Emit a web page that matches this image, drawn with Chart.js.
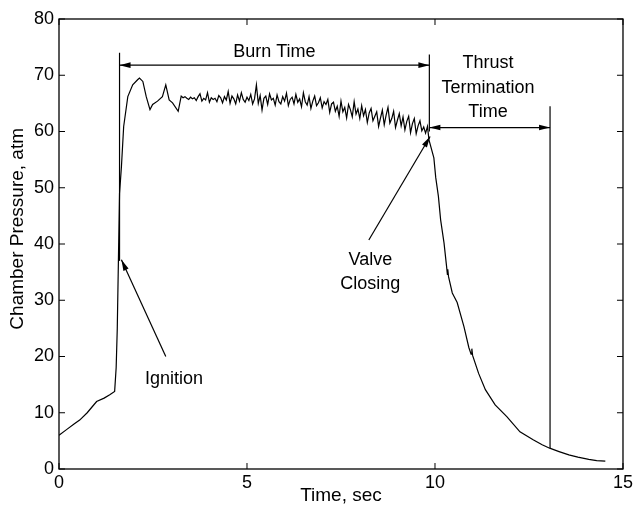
<!DOCTYPE html>
<html>
<head>
<meta charset="utf-8">
<script src="https://cdn.jsdelivr.net/npm/chart.js@4.4.0/dist/chart.umd.min.js"></script>
<style>
  html, body { margin: 0; padding: 0; background: #fff; }
</style>
</head>
<body>
<canvas id="PressureChart" width="636" height="509"></canvas>
<script>
// data
var timeSec = [
    0, 0.2, 0.4, 0.55, 0.75, 0.9, 1.0, 1.2, 1.35, 1.48,
    1.52, 1.55, 1.58, 1.61, 1.66, 1.72, 1.83, 1.96, 2.09, 2.14,
    2.23, 2.32, 2.42, 2.49, 2.62, 2.75, 2.84, 2.93, 3.02, 3.17,
    3.25, 3.30, 3.35, 3.40, 3.45, 3.50, 3.55, 3.60, 3.65, 3.70, 3.75, 3.80, 3.85, 3.90, 3.95, 4.00,
    4.05, 4.10, 4.15, 4.20, 4.25, 4.30, 4.35, 4.40, 4.45, 4.50, 4.55, 4.60, 4.65, 4.70, 4.75, 4.80, 4.85, 4.90, 4.95, 5.00,
    5.05, 5.10, 5.15, 5.20, 5.25, 5.30, 5.35, 5.40, 5.45, 5.50, 5.55, 5.60, 5.65, 5.70, 5.75, 5.80, 5.85, 5.90, 5.95, 6.00,
    6.05, 6.10, 6.15, 6.20, 6.25, 6.30, 6.35, 6.40, 6.45, 6.50, 6.55, 6.60, 6.65, 6.70, 6.75, 6.80, 6.85, 6.90, 6.95, 7.00,
    7.05, 7.10, 7.15, 7.20, 7.25, 7.30, 7.35, 7.40, 7.45, 7.50, 7.55, 7.60, 7.65, 7.70, 7.75, 7.80, 7.85, 7.90, 7.95, 8.00,
    8.05, 8.10, 8.15, 8.20, 8.25, 8.30, 8.35, 8.40, 8.45, 8.50, 8.55, 8.60, 8.65, 8.70, 8.75, 8.80, 8.85, 8.90, 8.95, 9.00,
    9.05, 9.10, 9.15, 9.20, 9.25, 9.30, 9.35, 9.40, 9.45, 9.50, 9.55, 9.60, 9.65, 9.70, 9.75, 9.80,
    9.84, 9.97, 10.02, 10.09, 10.15, 10.24, 10.30, 10.33, 10.34, 10.36,
    10.46, 10.59, 10.77, 10.90, 10.96, 10.98, 11.0, 11.16, 11.34, 11.6,
    11.91, 12.26, 12.61, 12.85, 13.05, 13.3, 13.56, 13.8, 14.09, 14.3,
    14.53
];
var pressureAtm = [
    6.0, 7.0, 8.0, 8.7, 10.0, 11.2, 12.0, 12.6, 13.2, 13.8,
    18.0, 25.0, 37.0, 49.0, 53.7, 60.9, 66.2, 68.3, 69.2, 69.5,
    68.9, 66.2, 63.9, 64.8, 65.4, 66.2, 68.3, 65.6, 65.1, 63.6,
    66.3, 66.0, 66.2, 65.9, 65.7, 66.1, 65.8, 66.0, 65.5, 66.2, 66.7, 65.4, 65.9, 65.6, 66.9, 65.2,
    66.0, 65.7, 65.9, 65.3, 66.4, 66.0, 65.1, 66.2, 65.6, 67.1, 65.0, 66.3, 65.8, 64.9, 66.5, 65.4, 66.9, 65.7, 65.2, 66.1,
    65.5, 66.6, 64.9, 65.8, 68.3, 65.0, 66.4, 63.8, 65.9, 66.3, 64.8, 66.7, 65.6, 65.9, 64.7, 66.5, 65.3, 64.9, 66.2, 65.4,
    66.8, 64.6, 65.7, 66.1, 64.9, 66.6, 65.2, 65.8, 64.4, 66.9, 65.3, 64.7, 66.2, 64.1, 65.4, 66.3, 64.6, 65.1, 66.0, 64.2,
    65.3, 64.8, 65.7, 63.4, 64.9, 65.2, 63.6, 64.5, 62.7, 65.4, 63.5, 64.3, 62.4, 64.8, 63.9, 62.6, 65.3, 63.1, 64.0, 62.3,
    64.6, 62.8, 63.9, 61.6, 63.3, 64.1, 61.9, 62.7, 63.5, 60.9, 62.4, 63.8, 61.2, 62.9, 64.3, 61.5, 62.3, 63.6, 60.7, 62.0,
    63.2, 61.0, 62.6, 60.3, 61.8, 62.7, 59.8, 61.4, 62.3, 59.6, 61.0, 61.9, 60.1, 60.8, 59.7, 60.9,
    58.5, 55.3, 51.8, 48.5, 44.3, 40.2, 36.5, 34.6, 35.5, 34.2,
    31.3, 29.6, 25.3, 21.6, 20.4, 21.4, 20.2, 17.0, 14.1, 11.4,
    9.3, 6.6, 5.2, 4.3, 3.7, 3.1, 2.5, 2.1, 1.7, 1.5,
    1.4
];
var xTicks = [0, 5, 10, 15];
var yTicks = [0, 10, 20, 30, 40, 50, 60, 70, 80];

// event times (sec) and annotation anchors, in data units
var ignitionTime = 1.61;
var valveTime = 9.85;
var thrustEndTime = 13.06;
var burnArrowLevel = 71.8;
var thrustArrowLevel = 60.7;

var FONT = '"Liberation Sans", Arial, Helvetica, sans-serif';

var points = timeSec.map(function (t, i) { return { x: t, y: pressureAtm[i] }; });

function arrowHead(ctx, x1, y1, x2, y2) {
    var ang = Math.atan2(y2 - y1, x2 - x1);
    var len = 11, hw = 2.8;
    ctx.beginPath();
    ctx.moveTo(x2, y2);
    ctx.lineTo(x2 - len * Math.cos(ang) + hw * Math.sin(ang), y2 - len * Math.sin(ang) - hw * Math.cos(ang));
    ctx.lineTo(x2 - len * Math.cos(ang) - hw * Math.sin(ang), y2 - len * Math.sin(ang) + hw * Math.cos(ang));
    ctx.closePath();
    ctx.fill();
}

function line(ctx, x1, y1, x2, y2) {
    ctx.beginPath();
    ctx.moveTo(x1, y1);
    ctx.lineTo(x2, y2);
    ctx.stroke();
}

var decorPlugin = {
    id: 'decor',
    afterDraw: function (chart) {
        var ctx = chart.ctx, a = chart.chartArea;
        var xs = chart.scales.x, ys = chart.scales.y;
        var px = function (v) { return xs.getPixelForValue(v); };
        var py = function (v) { return ys.getPixelForValue(v); };
        ctx.save();
        ctx.strokeStyle = '#000';
        ctx.fillStyle = '#000';

        // box + inward ticks
        ctx.lineWidth = 1.3;
        ctx.strokeRect(a.left, a.top, a.right - a.left, a.bottom - a.top);
        ctx.lineWidth = 1;
        xTicks.forEach(function (v) {
            line(ctx, px(v), a.bottom, px(v), a.bottom - 6);
            line(ctx, px(v), a.top, px(v), a.top + 6);
        });
        yTicks.forEach(function (v) {
            line(ctx, a.left, py(v), a.left + 6, py(v));
            line(ctx, a.right, py(v), a.right - 6, py(v));
        });

        // marker lines
        ctx.lineWidth = 1.2;
        line(ctx, px(ignitionTime), py(37), px(ignitionTime), py(74));
        line(ctx, px(valveTime), py(60), px(valveTime), py(73.7));
        line(ctx, px(thrustEndTime), py(3.7), px(thrustEndTime), py(64.5));

        // burn time arrow
        line(ctx, px(ignitionTime), py(burnArrowLevel), px(valveTime), py(burnArrowLevel));
        arrowHead(ctx, px(5), py(burnArrowLevel), px(ignitionTime), py(burnArrowLevel));
        arrowHead(ctx, px(5), py(burnArrowLevel), px(valveTime), py(burnArrowLevel));

        // thrust termination arrow
        line(ctx, px(valveTime), py(thrustArrowLevel), px(thrustEndTime), py(thrustArrowLevel));
        arrowHead(ctx, px(12), py(thrustArrowLevel), px(valveTime), py(thrustArrowLevel));
        arrowHead(ctx, px(11), py(thrustArrowLevel), px(thrustEndTime), py(thrustArrowLevel));

        // ignition + valve pointers
        line(ctx, px(2.84), py(20.0), px(1.66), py(37.2));
        arrowHead(ctx, px(2.84), py(20.0), px(1.66), py(37.2));
        line(ctx, px(8.24), py(40.7), px(9.87), py(59.1));
        arrowHead(ctx, px(8.24), py(40.7), px(9.87), py(59.1));

        // labels
        ctx.font = '18px ' + FONT;
        ctx.textAlign = 'center';
        ctx.textBaseline = 'middle';
        ctx.fillStyle = '#000';
        ctx.fillText('Burn Time', px(5.73), py(74.1));
        ctx.fillText('Thrust', px(11.41), py(72.2));
        ctx.fillText('Termination', px(11.41), py(67.7));
        ctx.fillText('Time', px(11.41), py(63.4));
        ctx.fillText('Valve', px(8.28), py(37.2));
        ctx.fillText('Closing', px(8.28), py(32.9));
        ctx.fillText('Ignition', px(3.06), py(16.0));

        // y axis title, sits a bit above the plot middle like the original
        ctx.font = '19px ' + FONT;
        ctx.translate(18, py(42.7));
        ctx.rotate(-Math.PI / 2);
        ctx.fillText('Chamber Pressure, atm', 0, 0);
        ctx.restore();
    }
};

new Chart(document.getElementById('PressureChart'), {
    type: 'line',
    data: {
        datasets: [{
            label: 'Chamber Pressure',
            data: points,
            borderColor: '#000',
            borderWidth: 1.2,
            pointRadius: 0,
            tension: 0,
            fill: false
        }]
    },
    options: {
        responsive: false,
        animation: false,
        devicePixelRatio: 1,
        layout: { padding: { top: 19, right: 9, left: 0, bottom: 0 } },
        plugins: { legend: { display: false }, tooltip: { enabled: false } },
        scales: {
            x: {
                type: 'linear',
                min: 0,
                max: 15,
                afterBuildTicks: function (s) { s.ticks = xTicks.map(function (v) { return { value: v }; }); },
                afterFit: function (s) { s.height = 40; },
                grid: { display: false, drawTicks: false },
                border: { display: false },
                ticks: { color: '#000', padding: 3, maxRotation: 0, font: { family: FONT, size: 18 } },
                title: { display: true, text: 'Time, sec', color: '#000', padding: { top: 0, bottom: 2 }, font: { family: FONT, size: 19 } }
            },
            y: {
                min: 0,
                max: 80,
                afterBuildTicks: function (s) { s.ticks = yTicks.map(function (v) { return { value: v }; }); },
                afterFit: function (s) { s.width = 59; },
                grid: { display: false, drawTicks: false },
                border: { display: false },
                ticks: { color: '#000', padding: 5, font: { family: FONT, size: 18 } },
                title: { display: false }
            }
        }
    },
    plugins: [decorPlugin]
});
</script>
</body>
</html>
